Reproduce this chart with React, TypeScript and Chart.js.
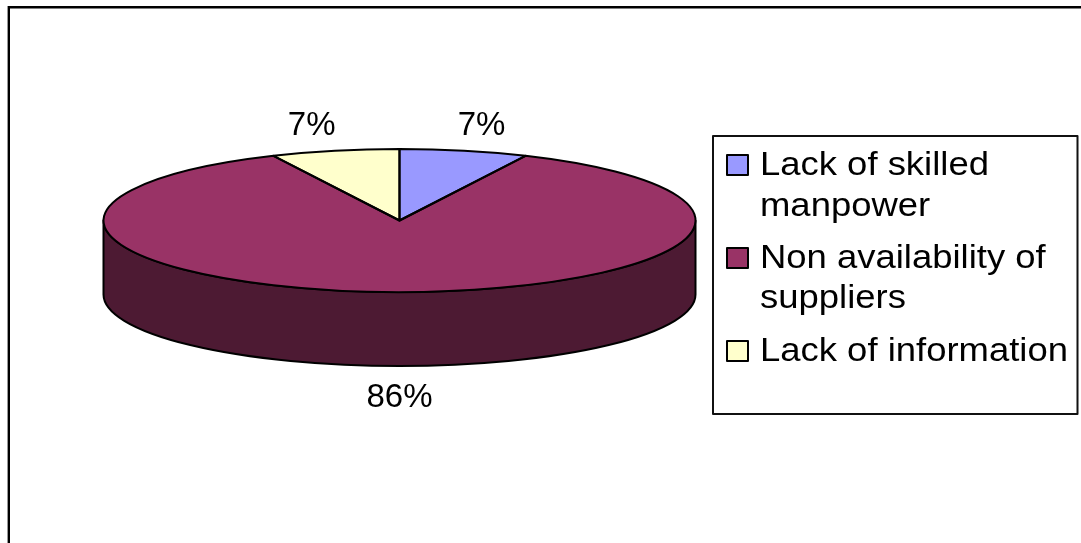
import React, { useEffect, useRef } from "react";
import { Chart, registerables } from "chart.js";

Chart.register(...registerables);

const categories: string[][] = [
  ["Lack of skilled", "manpower"],
  ["Non availability of", "suppliers"],
  ["Lack of information"],
];
const shares: number[] = [7, 86, 7];
const sliceColors: string[] = ["#9999FF", "#993366", "#FFFFCC"];
const wallColors: string[] = ["#4D4D80", "#4D1A33", "#808066"];

const LABEL_FONT = '33px "Liberation Sans", Arial, sans-serif';
const KEY_FONT = '34px "Liberation Sans", Arial, sans-serif';
const KEY_STRETCH = 1.072;
const DISC = { cx: 399.5, cy: 220.5, rx: 296, ry: 71.5, depth: 74 };
const LEGEND = { x: 713, y: 136, w: 364.5, h: 278 };
const SWATCH_TOPS = [155, 248, 341];
const LINE_BASELINES = [[175, 216], [268, 308], [361]];

// Squashes the flat pie into a tilted disc and adds its wall, outlines, labels and key.
const tiltedPie = {
  id: "tiltedPie",
  beforeDraw(chart: any) {
    const { ctx } = chart;
    ctx.save();
    ctx.strokeStyle = "#000";
    ctx.lineWidth = 2.4;
    ctx.beginPath();
    ctx.moveTo(8.8, 560);
    ctx.lineTo(8.8, 7.2);
    ctx.lineTo(1090, 7.2);
    ctx.stroke();
    ctx.restore();
  },
  beforeDatasetsDraw(chart: any) {
    const { ctx } = chart;
    const arcs = chart.getDatasetMeta(0).data;
    const { cx, cy, rx, ry, depth } = DISC;
    ctx.save();
    ctx.lineWidth = 2;
    ctx.strokeStyle = "#000";
    ctx.lineJoin = "round";
    arcs.forEach((arc: any, i: number) => {
      const a = Math.max(arc.startAngle, 0);
      const b = Math.min(arc.endAngle, Math.PI);
      if (b <= a) return;
      ctx.beginPath();
      ctx.ellipse(cx, cy, rx, ry, 0, a, b);
      ctx.ellipse(cx, cy + depth, rx, ry, 0, b, a, true);
      ctx.closePath();
      ctx.fillStyle = wallColors[i];
      ctx.fill();
      ctx.stroke();
    });
    ctx.restore();

    const first = arcs[0];
    const r = first.outerRadius;
    ctx.save();
    ctx.translate(cx, cy);
    ctx.scale(rx / r, ry / r);
    ctx.translate(-first.x, -first.y);
  },
  afterDatasetsDraw(chart: any) {
    const { ctx } = chart;
    ctx.restore();
    const arcs = chart.getDatasetMeta(0).data;
    const { cx, cy, rx, ry, depth } = DISC;

    // Slice outlines keep an even stroke because they are traced after the squash is undone.
    ctx.save();
    ctx.lineWidth = 2;
    ctx.strokeStyle = "#000";
    ctx.lineJoin = "round";
    arcs.forEach((arc: any) => {
      ctx.beginPath();
      ctx.moveTo(cx, cy);
      ctx.ellipse(cx, cy, rx, ry, 0, arc.startAngle, arc.endAngle);
      ctx.closePath();
      ctx.stroke();
    });

    // Percentage labels sit just outside the rim of each slice.
    ctx.fillStyle = "#000";
    ctx.font = LABEL_FONT;
    ctx.textAlign = "center";
    ctx.textBaseline = "alphabetic";
    const total = shares.reduce((s, v) => s + v, 0);
    arcs.forEach((arc: any, i: number) => {
      const mid = (arc.startAngle + arc.endAngle) / 2;
      const spread = Math.cos(mid) < 0 ? 1.36 : 1.27;
      const x = cx + Math.cos(mid) * rx * spread;
      const front = Math.sin(mid) > 0;
      const rim = cy + Math.sin(mid) * ry;
      const y = front ? rim + depth + 41 : rim - 16;
      ctx.fillText(`${Math.round((shares[i] / total) * 100)}%`, x, y);
    });

    // Key box on the right.
    ctx.lineWidth = 2;
    ctx.strokeStyle = "#111";
    ctx.strokeRect(LEGEND.x, LEGEND.y, LEGEND.w, LEGEND.h);
    ctx.font = KEY_FONT;
    ctx.textAlign = "left";
    categories.forEach((lines, i) => {
      ctx.fillStyle = sliceColors[i];
      ctx.fillRect(727, SWATCH_TOPS[i], 21, 20);
      ctx.lineWidth = 2;
      ctx.strokeStyle = "#000";
      ctx.strokeRect(727, SWATCH_TOPS[i], 21, 20);
      ctx.fillStyle = "#000";
      lines.forEach((line, j) => {
        ctx.save();
        ctx.translate(760, LINE_BASELINES[i][j]);
        ctx.scale(KEY_STRETCH, 1);
        ctx.fillText(line, 0, 0);
        ctx.restore();
      });
    });
    ctx.restore();
  },
};

export default function App() {
  const ref = useRef<HTMLCanvasElement>(null);
  useEffect(() => {
    document.body.style.margin = "0";
    const chart = new Chart(ref.current as HTMLCanvasElement, {
      type: "pie",
      data: {
        labels: categories as any,
        datasets: [
          {
            data: shares,
            backgroundColor: sliceColors,
            borderWidth: 0,
            clip: false as any,
          },
        ],
      },
      options: {
        responsive: false,
        animation: false,
        rotation: 0,
        events: [],
        plugins: { legend: { display: false }, tooltip: { enabled: false } },
      },
      plugins: [tiltedPie],
    });
    return () => chart.destroy();
  }, []);
  return (
    <canvas
      ref={ref}
      width={1081}
      height={543}
      style={{ display: "block", width: 1081, height: 543 }}
    />
  );
}
